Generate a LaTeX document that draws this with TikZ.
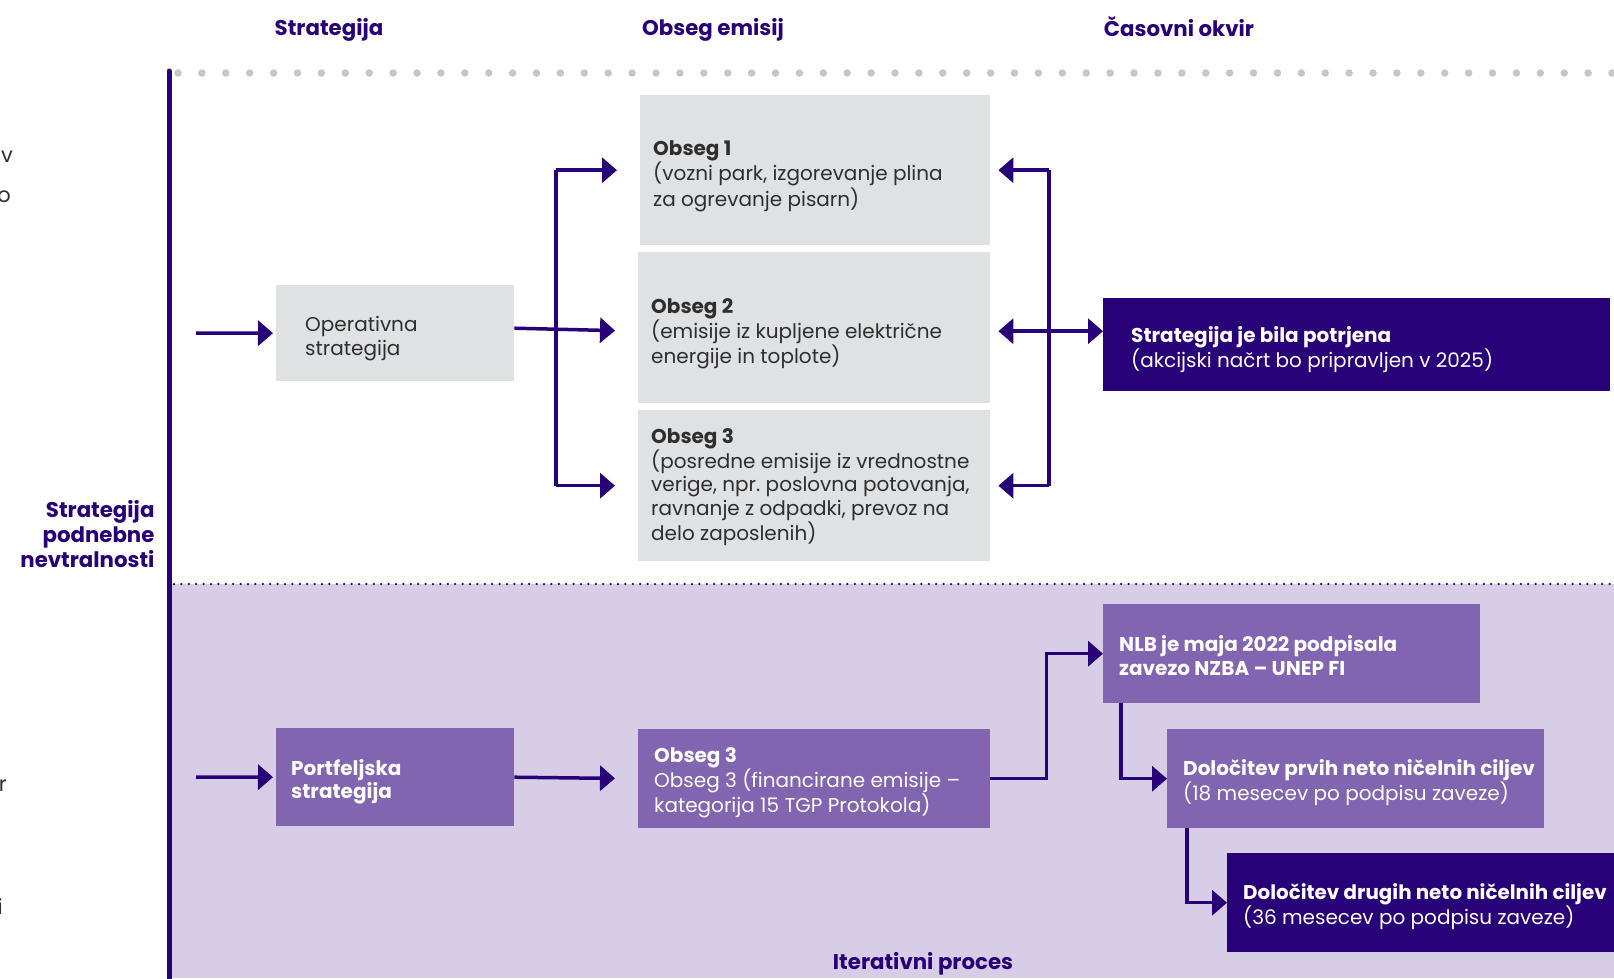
\documentclass[tikz,border=0pt]{standalone}
\usepackage{fontspec}
\setmainfont{Poppins}
\usetikzlibrary{arrows.meta,calc}
\definecolor{dpurple}{HTML}{280078}
\definecolor{mpurple}{HTML}{8165B0}
\definecolor{lav}{HTML}{D8CDE6}
\definecolor{gbox}{HTML}{E0E1E3}
\definecolor{gdot}{HTML}{C6C6C6}
\definecolor{tdark}{HTML}{2E2E2E}
\frenchspacing
\tikzset{
  boxbase/.style={rectangle, anchor=north west, inner sep=0pt},
  graybox/.style={boxbase, fill=gbox},
  midbox/.style={boxbase, fill=mpurple},
  darkbox/.style={boxbase, fill=dpurple},
  txt/.style={anchor=west, inner sep=0pt, align=left, font=\fontsize{20}{23.4}\selectfont},
  gtxt/.style={txt, text=tdark},
  wtxt/.style={txt, text=white},
  header/.style={font=\bfseries\fontsize{21.3}{26}\selectfont, text=dpurple},
  conn/.style={draw=dpurple, line width=3.5pt},
  arr/.style={conn, -{Triangle[length=15pt,width=25pt]}},
  arrtwo/.style={conn, {Triangle[length=15pt,width=25pt]}-{Triangle[length=15pt,width=25pt]}},
  frag/.style={font=\fontsize{21}{26}\selectfont, text=tdark, anchor=east, inner sep=0pt}
}
\begin{document}
\begin{tikzpicture}[x=1pt,y=-1pt]
\useasboundingbox (0,0) rectangle (1614,978);
% background zones
\fill[lav] (171,584) rectangle (1614,978);
\draw[draw=gdot, line width=7.5pt, line cap=round, dash pattern=on 0pt off 23.9pt] (178,73) -- (1614,73);
\draw[draw=dpurple, line width=2.5pt, line cap=round, dash pattern=on 0pt off 7.4pt] (174,584) -- (1614,584);
\draw[draw=dpurple, line width=5pt, line cap=round] (169,71) -- (169,990);

% headers
\node[header] (h1) at (329,30) {Strategija};
\node[header] (h2) at (713,30) {Obseg emisij};
\node[header] (h3) at (1179,27) {Časovni okvir};

% left fragments
\node[frag] (f1) at (13,157) {v};
\node[frag] (f2) at (11,197) {o};
\node[frag] (f3) at (7,786) {r};
\node[frag] (f4) at (3,906) {i};

% left label
\node[header, anchor=east, align=right, font=\bfseries\fontsize{21.3}{25}\selectfont] (lbl) at (158,534) {Strategija\\podnebne\\nevtralnosti};

% top boxes
\node[graybox, minimum width=238pt, minimum height=96pt] (oper) at (276,285) {};
\node[gtxt] (opert) at ([xshift=29pt,yshift=-5.5pt]oper.west) {Operativna\\strategija};
\node[graybox, minimum width=350pt, minimum height=150pt] (obs1) at (640,95) {};
\node[gtxt] (obs1t) at ([xshift=13pt,yshift=-6pt]obs1.west) {\textbf{Obseg 1}\\(vozni park, izgorevanje plina\\za ogrevanje pisarn)};
\node[graybox, minimum width=352pt, minimum height=151pt] (obs2) at (638,252) {};
\node[gtxt] (obs2t) at ([xshift=13pt,yshift=-6pt]obs2.west) {\textbf{Obseg 2}\\(emisije iz kupljene električne\\energije in toplote)};
\node[graybox, minimum width=352pt, minimum height=151pt] (obs3) at (638,410) {};
\node[gtxt] (obs3t) at ([xshift=13pt,yshift=-1pt]obs3.west) {\textbf{Obseg 3}\\(posredne emisije iz vrednostne\\verige, npr. poslovna potovanja,\\ravnanje z odpadki, prevoz na\\delo zaposlenih)};
\node[darkbox, minimum width=507pt, minimum height=93pt] (pot) at (1103,298) {};
\node[wtxt] (pott) at ([xshift=28pt,yshift=-4.5pt]pot.west) {\textbf{Strategija je bila potrjena}\\(akcijski načrt bo pripravljen v 2025)};

% bottom boxes
\node[midbox, minimum width=238pt, minimum height=98pt] (port) at (276,728) {};
\node[wtxt] (portt) at ([xshift=15pt,yshift=-4.5pt]port.west) {\textbf{Portfeljska}\\\textbf{strategija}};
\node[midbox, minimum width=352pt, minimum height=99pt] (obsb) at (638,729) {};
\node[wtxt] (obsbt) at ([xshift=16pt,yshift=-4pt]obsb.west) {\textbf{Obseg 3}\\Obseg 3 (financirane emisije –\\kategorija 15 TGP Protokola)};
\node[midbox, minimum width=377pt, minimum height=99pt] (nlb) at (1103,604) {};
\node[wtxt] (nlbt) at ([xshift=16pt,yshift=-2pt]nlb.west) {\textbf{NLB je maja 2022 podpisala}\\\textbf{zavezo NZBA – UNEP FI}};
\node[midbox, minimum width=377pt, minimum height=99pt] (prv) at (1167,729) {};
\node[wtxt] (prvt) at ([xshift=16pt,yshift=-4pt]prv.west) {\textbf{Določitev prvih neto ničelnih ciljev}\\(18 mesecev po podpisu zaveze)};
\node[darkbox, minimum width=420pt, minimum height=99pt] (drg) at (1227,853) {};
\node[wtxt] (drgt) at ([xshift=16pt,yshift=-4pt]drg.west) {{\fontsize{19.85}{23.4}\selectfont\textbf{Določitev drugih neto ničelnih ciljev}}\\(36 mesecev po podpisu zaveze)};

\node[header] (iter) at (923,964) {Iterativni proces};

% connectors top
\coordinate (in1) at (196,333);
\coordinate (lb) at (556,333);
\coordinate (rb) at (1049,333);
\draw[arr, shorten >=3pt] (in1) -- (oper.west);
\draw[arr, shorten >=23pt] ([yshift=5pt]oper.east) -- ([yshift=-3.5pt]obs2.west);
\draw[conn] (obs1.west -| lb) -- (obs3.west -| lb);
\draw[arr, shorten >=23pt] (obs1.west -| lb) -- (obs1.west);
\draw[arr, shorten >=23pt] (obs3.west -| lb) -- (obs3.west);
\draw[conn] (obs1.east -| rb) -- (obs3.east -| rb);
\draw[arr, shorten >=8pt] (obs1.east -| rb) -- (obs1.east);
\draw[arr, shorten >=8pt] (obs3.east -| rb) -- (obs3.east);
\draw[arrtwo, shorten <=8pt] ([yshift=-3.5pt]obs2.east) -- ([yshift=-3.5pt]obs2.east -| pot.west);

% connectors bottom
\coordinate (in2) at (196,777);
\draw[arr, shorten >=3pt] (in2) -- (port.west);
\draw[arr, shorten >=23pt] (port.east) -- (obsb.west);
\draw[arr] (obsb.east) -- ++(56,0) |- (nlb.west);
\draw[arr] ([xshift=18pt]nlb.south west) |- (prv.west);
\draw[arr] ([xshift=20pt]prv.south west) |- (drg.west);
\end{tikzpicture}
\end{document}
